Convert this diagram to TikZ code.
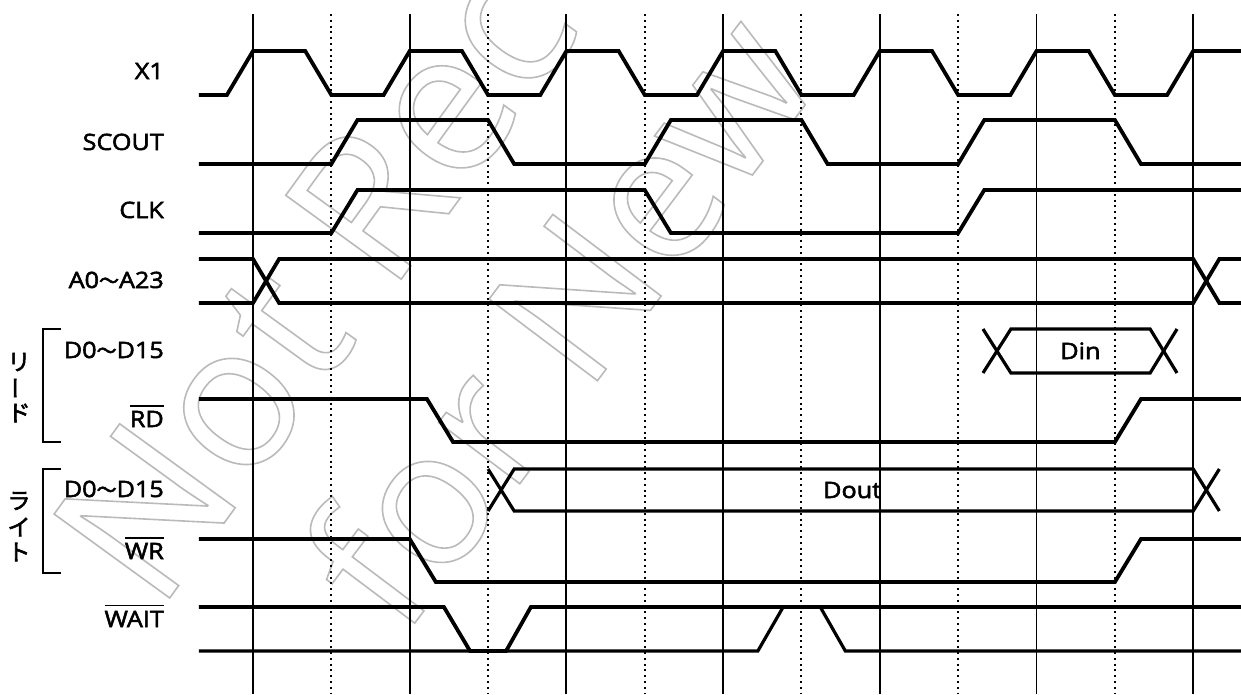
\documentclass[tikz,border=0pt]{standalone}
\usepackage{fontspec}
\setmainfont{Open Sans}[FakeStretch=1.12]
\newfontfamily\jp{Noto Sans CJK JP}
\newfontfamily\wmfont{Open Sans}
\newcommand\bld[1]{\special{pdf:literal direct 2 Tr 0.55 w}#1\special{pdf:literal direct 0 Tr}}
\newcommand\ovl[1]{\vbox{\hrule height 1.9pt\kern 4.4pt\hbox{\bld{#1}}}}
\newcommand\wdash{{\jp\fontsize{20}{20}\selectfont ～}}
\newcommand\wmout[1]{\special{pdf:literal direct 1 Tr 1.6 w}#1\special{pdf:literal direct 0 Tr}}
\begin{document}
\begin{tikzpicture}[x=1pt,y=-1pt,
  gridline/.style={line width=1.9pt},
  halfline/.style={line width=2pt, dash pattern=on 2pt off 3.8pt},
  sig/.style={line width=3.8pt},
  bus/.style={line width=3.2pt},
  bracket/.style={line width=1.9pt},
  lbl/.style={anchor=base east, inner sep=0pt, font=\fontsize{22.5}{27}\selectfont},
  dlbl/.style={anchor=base, inner sep=0pt, font=\fontsize{22.5}{27}\selectfont},
  jpc/.style={inner sep=0pt, font=\jp\fontsize{23}{23}\selectfont},
  wm/.style={inner sep=0pt, color=black!27, font=\wmfont\fontsize{200}{200}\selectfont}]
\useasboundingbox (0,0) rectangle (1241,694);

% watermark
\node[wm, rotate=54, anchor=base west] (wm1) at (158,614) {\wmout{Not Rec}};
\node[wm, rotate=53, anchor=base west, font=\wmfont\fontsize{190}{190}\selectfont] (wm2) at (402,640) {\wmout{for New}};

% grid
\foreach \k in {0,...,6} \draw[gridline] ({253+156.7*\k},14) -- ({253+156.7*\k},694);
\foreach \k in {0,...,5} \draw[halfline] ({331.35+156.7*\k},14) -- ({331.35+156.7*\k},694);

% labels
\node[lbl] (lx1) at (164,79) {\bld{X1}};
\node[lbl] (lsc) at (164,150) {\bld{SCOUT}};
\node[lbl] (lclk) at (164,218) {\bld{CLK}};
\node[lbl] (la) at (164,288) {\bld{A0\wdash A23}};
\node[lbl] (ldr) at (164,358) {\bld{D0\wdash D15}};
\node[lbl] (lrd) at (164,427) {\ovl{RD}};
\node[lbl] (ldw) at (164,497) {\bld{D0\wdash D15}};
\node[lbl] (lwr) at (164,559) {\ovl{WR}};
\node[lbl] (lwait) at (164,627) {\ovl{WAIT}};

% brackets and Japanese labels
\draw[bracket] (61,329) -- (43,329) -- (43,442) -- (61,442);
\draw[bracket] (61,469) -- (43,469) -- (43,573) -- (61,573);
\node[jpc] (r1) at (19,362) {\bld{リ}};
\node[jpc, rotate=90] (r2) at (19,388) {\bld{ー}};
\node[jpc] (r3) at (19,413) {\bld{ド}};
\node[jpc] (w1) at (19,501) {\bld{ラ}};
\node[jpc] (w2) at (19,527) {\bld{イ}};
\node[jpc] (w3) at (19,552) {\bld{ト}};

\begin{scope}[x=26.117pt, xshift=253pt]
% X1
\draw[sig] (-2.07,95) -- (-1,95) -- (0,51) -- (2,51) -- (3,95) -- (5,95) -- (6,51) -- (8,51) -- (9,95)
  -- (11,95) -- (12,51) -- (14,51) -- (15,95) -- (17,95) -- (18,51) -- (20,51) -- (21,95)
  -- (23,95) -- (24,51) -- (26,51) -- (27,95) -- (29,95) -- (30,51) -- (32,51) -- (33,95)
  -- (35,95) -- (36,51) -- (37.9,51);
% SCOUT
\draw[sig] (-2.07,164) -- (3,164) -- (4,120) -- (9,120) -- (10,164) -- (15,164) -- (16,120) -- (21,120)
  -- (22,164) -- (27,164) -- (28,120) -- (33,120) -- (34,164) -- (37.9,164);
% CLK
\draw[sig] (-2.07,233) -- (3,233) -- (4,190) -- (15,190) -- (16,233) -- (27,233) -- (28,190) -- (37.9,190);
% A0-A23
\draw[sig] (-2.07,259) -- (0,259) -- (1,303) -- (36,303) -- (37,259) -- (37.9,259);
\draw[sig] (-2.07,303) -- (0,303) -- (1,259) -- (36,259) -- (37,303) -- (37.9,303);
% read data
\draw[bus] (27.95,329) -- (29.02,373) -- (34.35,373) -- (35.38,329);
\draw[bus] (27.95,373) -- (29.02,329) -- (34.35,329) -- (35.38,373);
\node[dlbl] (din) at (31.68,359) {\bld{Din}};
% RD
\draw[sig] (-2.07,399) -- (6.66,399) -- (7.66,442) -- (33,442) -- (34,399) -- (37.9,399);
% write data
\draw[bus] (9,469) -- (10,511) -- (36,511) -- (37,469);
\draw[bus] (9,511) -- (10,469) -- (36,469) -- (37,511);
\node[dlbl] (dout) at (22.94,498) {\bld{Dout}};
% WR
\draw[sig] (-2.07,539) -- (6,539) -- (7,582) -- (33,582) -- (34,539) -- (37.9,539);
% WAIT
\draw[sig] (-2.07,607) -- (7.31,607) -- (8.31,651) -- (9.69,651) -- (10.64,607) -- (37.9,607);
\draw[bus] (-2.07,651) -- (19.33,651) -- (20.3,607) -- (21.72,607) -- (22.68,651) -- (37.9,651);
\end{scope}
\end{tikzpicture}
\end{document}
